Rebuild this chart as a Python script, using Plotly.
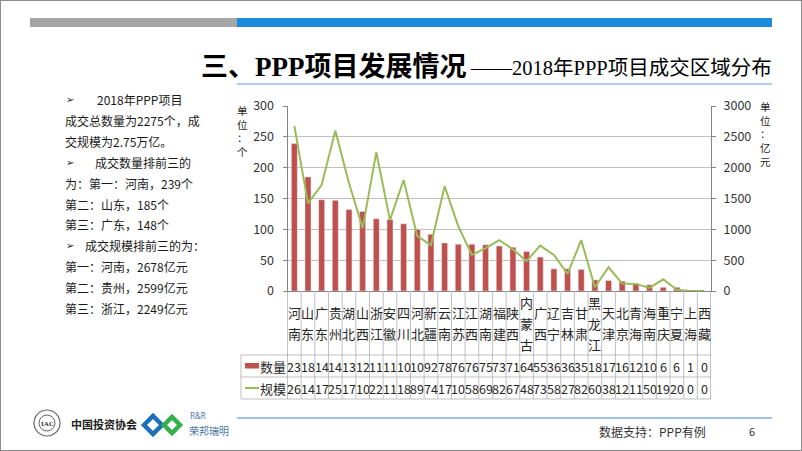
import plotly.graph_objects as go

W, H = 802, 451

provinces = ["河南", "山东", "广东", "贵州", "湖北", "山西", "浙江", "安徽", "四川", "河北",
             "新疆", "云南", "江苏", "江西", "湖南", "福建", "陕西", "内蒙古", "广西", "辽宁",
             "吉林", "甘肃", "黑龙江", "天津", "北京", "青海", "海南", "重庆", "宁夏", "上海", "西藏"]
counts = [239, 185, 148, 147, 132, 129, 117, 116, 109, 100, 92, 78, 76, 76, 75, 73, 71, 64, 55,
          36, 36, 35, 18, 17, 16, 12, 10, 6, 6, 1, 0]
scale = [2678, 1420, 1720, 2599, 1750, 1020, 2249, 1150, 1800, 890, 745, 1700, 1050, 585, 695,
         825, 675, 485, 735, 585, 278, 825, 60, 385, 121, 115, 50, 190, 20, 0, 0]

left_ticks = [0, 50, 100, 150, 200, 250, 300]
right_ticks = [0, 500, 1000, 1500, 2000, 2500, 3000]

title_main = "三、PPP项目发展情况"
title_sub = "——2018年PPP项目成交区域分布"
left_text = [
    ("➢", "2018年PPP项目", 95),
    ("", "成交总数量为2275个，成", 63),
    ("", "交规模为2.75万亿。", 63),
    ("➢", "成交数量排前三的", 93),
    ("", "为：第一：河南，239个", 63),
    ("", "第二：山东，185个", 63),
    ("", "第三：广东，148个", 63),
    ("➢", "成交规模排前三的为：", 83),
    ("", "第一：河南，2678亿元", 63),
    ("", "第二：贵州，2599亿元", 63),
    ("", "第三：浙江，2249亿元", 63),
]
series_names = ["数量", "规模"]
unit_left = "单位：个"
unit_right = "单位：亿元"
source_text = "数据支持：PPP有例"
page_no = "6"

BAR = "#C0504D"
LINE = "#9BBB59"
GRID = "#BFBFBF"
AX = "#868686"
TXT = "#262626"
CJK = "Noto Sans CJK SC"


def px(x):
    return x / W


def py(y):
    return 1 - y / H


X0, X1 = 287.5, 711
Y_TOP, Y_BOT = 106, 291

fig = go.Figure()
fig.add_trace(go.Bar(x=list(range(len(provinces))), y=counts, marker_color=BAR,
                     width=0.44, name=series_names[0], yaxis="y"))
fig.add_trace(go.Scatter(x=list(range(len(provinces))), y=scale, mode="lines",
                         line=dict(color=LINE, width=2), name=series_names[1], yaxis="y2"))

shapes = []
ann = []


def text(t, x, y, size, color=TXT, family=CJK, xanchor="center", yanchor="middle", xref="paper"):
    ann.append(dict(text=t, x=x, y=y, xref=xref, yref="paper", showarrow=False,
                    xanchor=xanchor, yanchor=yanchor,
                    font=dict(size=size, color=color, family=family)))


# slide frame
shapes.append(dict(type="rect", xref="paper", yref="paper", x0=0, x1=1, y0=0, y1=1,
                   line=dict(color="#8C8C8C", width=2)))
# top bars
shapes.append(dict(type="rect", xref="paper", yref="paper", x0=px(30), x1=px(237),
                   y0=py(27), y1=py(18), fillcolor="#A6A6A6", line=dict(width=0)))
shapes.append(dict(type="rect", xref="paper", yref="paper", x0=px(237), x1=px(772),
                   y0=py(27), y1=py(18), fillcolor="#1B8BDB", line=dict(width=0)))
# title underline
shapes.append(dict(type="line", xref="paper", yref="paper", x0=px(237), x1=px(772),
                   y0=py(84), y1=py(84), line=dict(color="#B3CDE8", width=2)))
# footer line
shapes.append(dict(type="line", xref="paper", yref="paper", x0=px(237), x1=px(772),
                   y0=py(418), y1=py(418), line=dict(color="#9DC3E6", width=2)))

# data table lines
ROW1, ROW2, ROW3 = 355, 377, 399
for yy in (ROW1, ROW2, ROW3):
    shapes.append(dict(type="line", xref="paper", yref="paper", x0=px(241), x1=px(X1),
                       y0=py(yy), y1=py(yy), line=dict(color=GRID, width=1)))
shapes.append(dict(type="line", xref="paper", yref="paper", x0=px(241), x1=px(241),
                   y0=py(ROW1), y1=py(ROW3), line=dict(color=GRID, width=1)))
for i in range(len(provinces) + 1):
    edge = i == 0 or i == len(provinces)
    shapes.append(dict(type="line", xref="x", yref="paper", x0=i - 0.5, x1=i - 0.5,
                       y0=py(ROW3), y1=py(Y_BOT), line=dict(color=AX if edge else GRID, width=1)))

# legend keys in table
shapes.append(dict(type="rect", xref="paper", yref="paper", x0=px(245), x1=px(259),
                   y0=py(368.5), y1=py(363), fillcolor=BAR, line=dict(width=0)))
shapes.append(dict(type="line", xref="paper", yref="paper", x0=px(245), x1=px(259),
                   y0=py(388), y1=py(388), line=dict(color=LINE, width=2)))
text(series_names[0], px(273), py(366), 13)
text(series_names[1], px(273), py(388), 13)

# category labels (stacked characters) and table values
for i, name in enumerate(provinces):
    n = len(name)
    for j, ch in enumerate(name):
        yc = 323 + (j - (n - 1) / 2) * 21
        text(ch, i, py(yc), 13, xref="x")
    text(str(counts[i])[:2], i, py(366), 12.5, xref="x")
    text(str(scale[i])[:2], i, py(388), 12.5, xref="x")

# unit labels (vertical, one character per line)
text("<br>".join(unit_left), px(242), py(131), 10.5)
text("<br>".join(unit_right), px(765), py(134), 10.5)

# title
text("<b>" + title_main + "</b>", px(468), py(67), 27, color="#000000",
     family="Liberation Serif, " + CJK, xanchor="right")
text(title_sub, px(468), py(68), 20.5, color="#000000",
     family="Liberation Serif, " + CJK, xanchor="left")

# left text block
for k, (bullet, line, xs) in enumerate(left_text):
    yy = 100 + k * 20.8
    if bullet:
        text(bullet, px(64), py(yy), 10, color="#1A1A1A", family="DejaVu Sans", xanchor="left")
    text(line, px(xs), py(yy), 12, color="#1A1A1A", xanchor="left")

# footer: logos and text
shapes.append(dict(type="circle", xref="paper", yref="paper", x0=px(34), x1=px(60),
                   y0=py(436), y1=py(410), line=dict(color="#666666", width=1.2), fillcolor="white"))
shapes.append(dict(type="circle", xref="paper", yref="paper", x0=px(39), x1=px(55),
                   y0=py(431), y1=py(415), line=dict(color="#666666", width=1), fillcolor="white"))
text("<b>IAC</b>", px(47), py(423.5), 7, color="#333333", family="Liberation Serif")
text("<b>中国投资协会</b>", px(69), py(424), 11, color="#1A1A1A", xanchor="left")


def diamond(cx, cy, r):
    return (f"M {px(cx - r)} {py(cy)} L {px(cx)} {py(cy - r)} "
            f"L {px(cx + r)} {py(cy)} L {px(cx)} {py(cy + r)} Z")


shapes.append(dict(type="path", xref="paper", yref="paper", path=diamond(153, 425, 9),
                   line=dict(color="#1F6FB8", width=4.5)))
shapes.append(dict(type="path", xref="paper", yref="paper", path=diamond(172, 425, 8),
                   line=dict(color="#33B04A", width=4.5)))
text("R&R", px(188), py(415), 8, color="#4A76A8", family="Noto Sans", xanchor="left")
text("荣邦瑞明", px(187), py(430.5), 10, color="#4A76A8", xanchor="left")
text(source_text, px(597), py(431), 12, color="#333333", xanchor="left")
text(page_no, px(752), py(431), 11, color="#333333")

fig.update_layout(
    width=W, height=H, margin=dict(l=0, r=0, t=0, b=0, autoexpand=False),
    paper_bgcolor="white", plot_bgcolor="white", showlegend=False,
    font=dict(family=CJK, color=TXT),
    xaxis=dict(domain=[px(X0), px(X1)], range=[-0.5, len(provinces) - 0.5],
               showticklabels=False, showgrid=False, zeroline=False, ticks="",
               showline=True, linecolor=AX, linewidth=1, fixedrange=True, automargin=False),
    yaxis=dict(domain=[py(Y_BOT), py(Y_TOP)], range=[0, 300], tickvals=left_ticks,
               showgrid=True, gridcolor=GRID, gridwidth=1, zeroline=False, automargin=False,
               showline=True, linecolor=AX, ticks="outside", ticklen=4, tickcolor=AX,
               ticklabelstandoff=6, tickfont=dict(size=12.5, color="#333333", family=CJK)),
    yaxis2=dict(overlaying="y", side="right", range=[0, 3000], tickvals=right_ticks,
                showgrid=False, zeroline=False, showline=True, linecolor=AX, automargin=False,
                ticks="outside", ticklen=4, tickcolor=AX, ticklabelstandoff=5,
                tickfont=dict(size=12.5, color="#333333", family=CJK)),
    shapes=shapes, annotations=ann,
)

fig.write_html("out.html", config={"displayModeBar": False},
               post_script="document.body.style.margin='0';")
